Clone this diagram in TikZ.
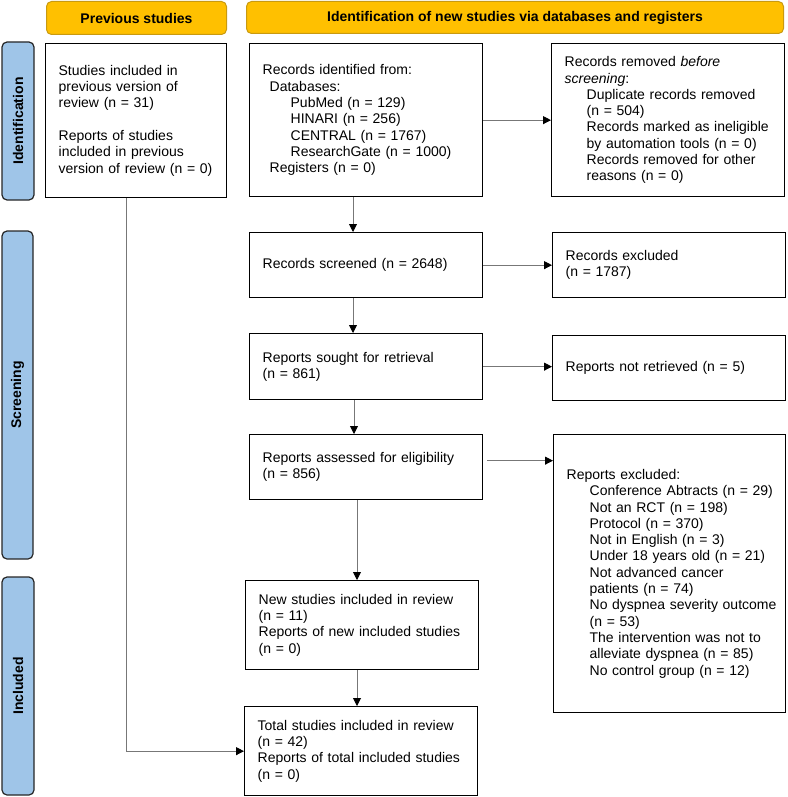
\documentclass[tikz,border=0pt]{standalone}
\usepackage{fontspec}
\setmainfont{Liberation Sans}
\usetikzlibrary{arrows.meta,calc}
\definecolor{hdrfill}{HTML}{FFC000}
\definecolor{hdrborder}{HTML}{C99A10}
\definecolor{sidefill}{HTML}{9FC5E8}
\definecolor{linegray}{HTML}{777777}
\newcommand{\ia}[1]{\mbox{\hspace*{7pt}#1}}
\newcommand{\ib}[1]{\mbox{\hspace*{28pt}#1}}
\newcommand{\ic}[1]{\mbox{\hspace*{22pt}#1}}
\newcommand{\idn}[1]{\mbox{\hspace*{23pt}#1}}
\begin{document}
\begin{tikzpicture}[x=1pt,y=-1pt,
  txt/.style={font=\fontsize{14}{16.3}\selectfont},
  box/.style={draw=black, line width=1.3pt, align=left, inner xsep=13pt, inner ysep=0pt,
    anchor=north west, txt},
  hdr/.style={draw=hdrborder, fill=hdrfill, rounded corners=5pt, line width=1pt,
    anchor=north west, inner sep=0pt, font=\fontsize{14}{16}\selectfont\bfseries},
  side/.style={draw=black!85, fill=sidefill, rounded corners=5pt, line width=1.2pt,
    inner sep=0pt, rotate=90, font=\fontsize{14}{16}\selectfont\bfseries},
  conn/.style={draw=linegray, line width=0.9pt, -{Triangle[black,length=8pt,width=8pt]}}]
\useasboundingbox (0,0) rectangle (787,797);

% headers
\node[hdr, minimum width=180pt, minimum height=33pt] (hprev) at (46,1) {Previous studies};
\node[hdr, minimum width=537pt, minimum height=32pt] (hid) at (246,1) {Identification of new studies via databases and registers};

% side bars
\node[side, minimum width=158pt, minimum height=32pt] (sid) at (18,121) {Identification};
\node[side, minimum width=328pt, minimum height=31pt] (sscr) at (17.5,395) {Screening};
\node[side, minimum width=218pt, minimum height=32pt] (sinc) at (18,686) {Included};

% boxes
\node[box, text width=155pt, minimum height=154pt] (prev) at (45,43)
  {Studies included in\\previous version of\\review (n = 31)\\[16.3pt]Reports of studies\\included in previous\\version of review (n = 0)};
\node[box, text width=207pt, minimum height=153pt] (ident) at (249,43)
  {Records identified from:\\\ia{Databases:}\\\ib{PubMed (n = 129)}\\\ib{HINARI (n = 256)}\\\ib{CENTRAL (n = 1767)}\\\ib{ResearchGate (n = 1000)}\\\ia{Registers (n = 0)}};
\node[box, text width=207pt, minimum height=153pt] (removed) at (551,43)
  {Records removed \textit{before}\\\textit{screening}:\\\ic{Duplicate records removed}\\\ic{(n = 504)}\\\ic{Records marked as ineligible}\\\ic{by automation tools (n = 0)}\\\ic{Records removed for other}\\\ic{reasons (n = 0)}};
\node[box, text width=207pt, minimum height=65pt] (screened) at (249,232) {Records screened (n = 2648)};
\node[box, text width=207pt, minimum height=65pt] (excl) at (552,232) {Records excluded\\(n = 1787)};
\node[box, text width=207pt, minimum height=66pt] (sought) at (249,333) {Reports sought for retrieval\\(n = 861)};
\node[box, text width=207pt, minimum height=65pt] (notret) at (552,335) {Reports not retrieved (n = 5)};
\node[box, text width=207pt, minimum height=65pt] (assessed) at (249,434) {Reports assessed for eligibility\\(n = 856)};
\node[box, text width=206pt, minimum height=278pt] (repexcl) at (553,434)
  {Reports excluded:\\\idn{Conference Abtracts (n = 29)}\\\idn{Not an RCT (n = 198)}\\\idn{Protocol (n = 370)}\\\idn{Not in English (n = 3)}\\\idn{Under 18 years old (n = 21)}\\\idn{Not advanced cancer}\\\idn{patients (n = 74)}\\\idn{No dyspnea severity outcome}\\\idn{(n = 53)}\\\idn{The intervention was not to}\\\idn{alleviate dyspnea (n = 85)}\\\idn{No control group (n = 12)}};
\node[box, text width=207pt, minimum height=89pt] (newinc) at (245,580)
  {New studies included in review\\(n = 11)\\Reports of new included studies\\(n = 0)};
\node[box, text width=207pt, minimum height=89pt] (total) at (244,706)
  {Total studies included in review\\(n = 42)\\Reports of total included studies\\(n = 0)};

% connector guides
\coordinate (xa) at (353,0);
\coordinate (xb) at (354,0);
\coordinate (xc) at (357,0);
\coordinate (xp) at (126,0);
\coordinate (ae) at ([yshift=6.5pt,xshift=4pt]assessed.east);

% connectors
\draw[conn] (ident.east) -- (ident.east -| removed.west);
\draw[conn] (screened.east) -- (screened.east -| excl.west);
\draw[conn] (sought.east) -- (sought.east -| notret.west);
\draw[conn] (ae) -- (ae -| repexcl.west);
\draw[conn] (ident.south -| xa) -- (screened.north -| xa);
\draw[conn] (screened.south -| xa) -- (sought.north -| xa);
\draw[conn] (sought.south -| xb) -- (assessed.north -| xb);
\draw[conn] (assessed.south -| xc) -- (newinc.north -| xc);
\draw[conn] (newinc.south -| xc) -- (total.north -| xc);
\draw[conn] (prev.south -| xp) |- (total.west);
\end{tikzpicture}
\end{document}
